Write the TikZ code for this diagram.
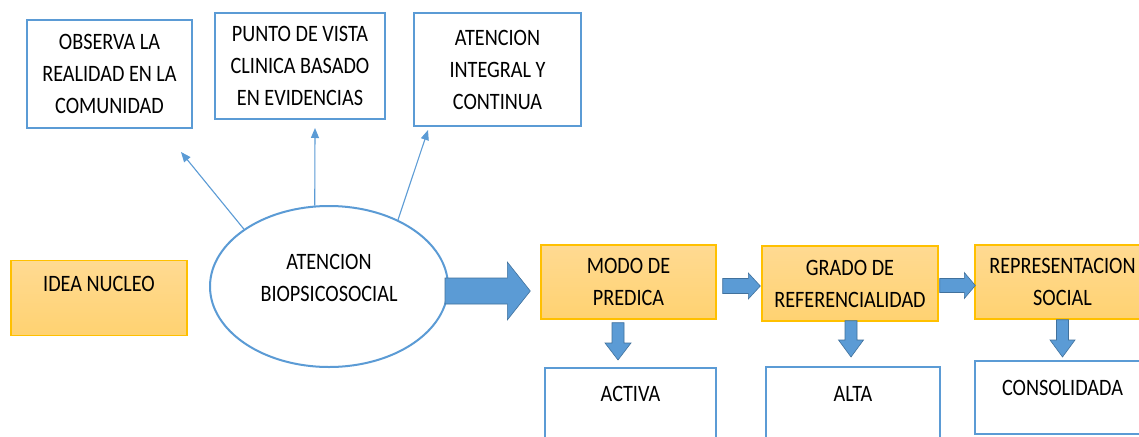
\documentclass[tikz,border=0pt]{standalone}
\usepackage{fontspec}
\setmainfont{Carlito}[FakeStretch=0.86]
\usetikzlibrary{shapes.geometric,calc,arrows.meta}
\definecolor{bl}{HTML}{5B9BD5}
\definecolor{bldark}{HTML}{41719C}
\definecolor{goldline}{HTML}{FFC000}
\definecolor{goldtop}{HTML}{FFDA92}
\definecolor{goldbot}{HTML}{FFD271}
% horizontal block arrow: start, tip, shaft half, head half, head length
\newcommand\harrow[5]{%
  \path[blockfill] let \p1=(#1), \p2=(#2) in
   (\x1,\y1+#3) -- (\x2-#5,\y1+#3) -- (\x2-#5,\y1+#4) -- (\x2,\y1) --
   (\x2-#5,\y1-#4) -- (\x2-#5,\y1-#3) -- (\x1,\y1-#3) -- cycle;}
% vertical (downward) block arrow
\newcommand\varrow[5]{%
  \path[blockfill] let \p1=(#1), \p2=(#2) in
   (\x1-#3,\y1) -- (\x1-#3,\y2+#5) -- (\x1-#4,\y2+#5) -- (\x1,\y2) --
   (\x1+#4,\y2+#5) -- (\x1+#3,\y2+#5) -- (\x1+#3,\y1) -- cycle;}
\begin{document}
\begin{tikzpicture}[x=1pt,y=-1pt,
  txt/.style={font=\fontsize{23.5}{32}\selectfont, align=center, text=black},
  bluebox/.style={txt, rectangle, draw=bl, line width=2.2pt, fill=white, inner sep=0pt},
  goldbox/.style={txt, rectangle, draw=goldline, line width=1.4pt, top color=goldtop, bottom color=goldbot, inner sep=0pt},
  thinarrow/.style={draw=bl, line width=1.1pt, -{Triangle[length=10pt,width=8pt]}},
  blockfill/.style={fill=bl, draw=bldark, line width=0.6pt}]
\useasboundingbox (0,0) rectangle (1139,436);
\clip (0,0) rectangle (1139,436);
\fill[white] (0,0) rectangle (1139,436);

% top boxes
\node[bluebox, minimum width=165pt, minimum height=108pt] (obs) at (109.5,74) {OBSERVA LA\\REALIDAD EN LA\\COMUNIDAD};
\node[bluebox, minimum width=170pt, minimum height=106pt] (punto) at (300,66) {PUNTO DE VISTA\\CLINICA BASADO\\EN EVIDENCIAS};
\node[bluebox, minimum width=167pt, minimum height=113pt] (integ) at (497.5,69.5) {ATENCION\\INTEGRAL Y\\CONTINUA};

% idea nucleo
\node[goldbox, anchor=north, minimum width=176pt, text height=30.5pt, text depth=44.5pt] (idea) at (99,260) {IDEA NUCLEO};

% ellipse
\node[ellipse, draw=bl, line width=2pt, fill=white, minimum width=238pt, minimum height=161pt, inner sep=0pt] (ell) at (329,286.5) {};
\node[txt, inner sep=0pt] (ellt) at ($(ell.center)+(0,-9)$) {ATENCION\\BIOPSICOSOCIAL};

% thin arrows
\coordinate (t1) at (181,152);
\coordinate (t2) at (315,128);
\coordinate (t3) at (428,130);
\draw[thinarrow] (ell.146) -- (t1);
\draw[thinarrow] (ell.100) -- (t2);
\draw[thinarrow] (ell.44) -- (t3);

% gold row
\node[goldbox, minimum width=175pt, minimum height=74pt] (modo) at (628.5,282) {MODO DE\\PREDICA};
\node[goldbox, minimum width=176pt, minimum height=75pt] (grado) at (850,283.5) {GRADO DE\\REFERENCIALIDAD};
\node[goldbox, minimum width=175pt, minimum height=74pt] (rep) at (1062.5,282) {REPRESENTACION\\SOCIAL};

% bottom boxes
\node[bluebox, anchor=north, minimum width=171pt, text height=33.5pt, text depth=70pt] (activa) at (630.5,367) {ACTIVA};
\node[bluebox, anchor=north, minimum width=174pt, text height=34.5pt, text depth=70pt] (alta) at (853,366) {ALTA};
\node[bluebox, anchor=north, minimum width=175pt, text height=34.5pt, text depth=38.5pt] (consol) at (1062.5,360) {CONSOLIDADA};

% block arrows
\coordinate (b1s) at ($(ell.east)+(-4,4.5)$);
\coordinate (b1e) at ($(modo.west)+(-10,0)$);
\harrow{b1s}{b1e}{13pt}{29pt}{23pt}
\coordinate (b2s) at ($(modo.east)+(6,4)$);
\coordinate (b2e) at ($(grado.west)+(-1,0)$);
\harrow{b2s}{b2e}{7.5pt}{13pt}{12pt}
\coordinate (b3s) at ($(grado.east)+(1,2)$);
\coordinate (b3e) at ($(rep.west)+(1,0)$);
\harrow{b3s}{b3e}{7pt}{13pt}{11pt}

\coordinate (d1s) at ($(modo.south)+(-10.5,3)$);
\coordinate (d1e) at ($(activa.north)+(0,-7)$);
\varrow{d1s}{d1e}{6pt}{13pt}{17pt}
\coordinate (d2s) at ($(grado.south)+(1,-1)$);
\coordinate (d2e) at ($(alta.north)+(0,-9)$);
\varrow{d2s}{d2e}{6pt}{12.5pt}{17pt}
\coordinate (d3s) at ($(rep.south)+(0,0)$);
\coordinate (d3e) at ($(consol.north)+(0,-3)$);
\varrow{d3s}{d3e}{6pt}{12.5pt}{17pt}
\end{tikzpicture}
\end{document}
